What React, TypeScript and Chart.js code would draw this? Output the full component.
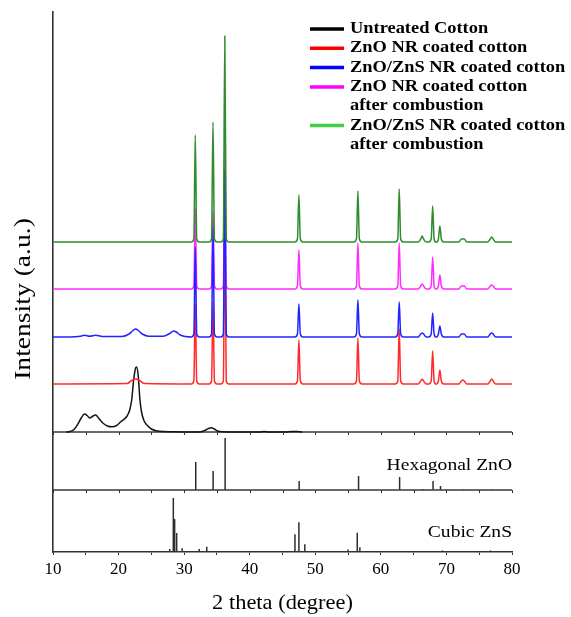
import React, { useEffect, useRef } from 'react';
import { Chart, registerables } from 'chart.js';

Chart.register(...registerables);

// ---------- data ----------
const xTickValues = [10, 20, 30, 40, 50, 60, 70, 80];
const xTickLabels = ['10', '20', '30', '40', '50', '60', '70', '80'];

const traceNames = [
  'Untreated Cotton',
  'ZnO NR coated cotton',
  'ZnO/ZnS NR coated cotton',
  'ZnO NR coated cotton after combustion',
  'ZnO/ZnS NR coated cotton after combustion',
];
const legendLines = [
  ['Untreated Cotton'],
  ['ZnO NR coated cotton'],
  ['ZnO/ZnS NR coated cotton'],
  ['ZnO NR coated cotton', 'after combustion'],
  ['ZnO/ZnS NR coated cotton', 'after combustion'],
];
const traceColors = ['#141414', '#ff2a2a', '#2323ff', '#ff2cff', '#2f8c2f'];
const legendColors = ['#000000', '#ff0000', '#0000ff', '#ff00ff', '#44cc44'];
// vertical offsets (a.u.) of each stacked pattern
const traceOffsets = [120, 168, 215, 263, 310];

// ZnO reflections seen in the coated samples
const znoPeakPositions = [31.7, 34.4, 36.2, 47.5, 56.5, 62.8, 66.3, 67.9, 69.0, 72.5, 76.9];
const redPeakHeights = [80, 82, 160, 44, 46, 55, 5, 33, 14, 4, 5];
const bluePeakHeights = [90, 110, 167, 33, 37, 35, 4, 24, 11, 3, 4];
const magentaPeakHeights = [80, 78, 150, 39, 46, 46, 5, 32, 14, 3, 4];
const greenPeakHeights = [107, 120, 206, 47, 51, 53, 6, 36, 16, 3, 5];

// untreated cotton (cellulose) pattern
const untreatedX = [12.0, 12.6, 13.2, 13.8, 14.3, 14.8, 15.2, 15.6, 16.0, 16.5, 17.0, 17.6, 18.3, 19.0, 19.7, 20.3, 20.8, 21.3, 21.7, 22.0, 22.3, 22.6, 22.75, 23.0, 23.25, 23.5, 23.9, 24.4, 25.0, 25.8, 26.8, 28.0, 30.0, 32.6, 33.3, 33.8, 34.2, 34.6, 35.1, 35.8, 38.0, 41.5, 42.2, 43.0, 45.5, 46.3, 47.2, 48.0];
const untreatedY = [0, 0.5, 2.5, 8, 14, 18, 16.5, 14, 15.5, 17, 13.5, 9, 6, 5.2, 6.5, 10, 12.5, 16, 22, 32, 52, 64, 65, 56, 33, 20, 11, 6.5, 3, 1.2, 0.4, 0.2, 0, 0.3, 2, 3.8, 4.2, 3, 1, 0.2, 0, 0, 0.6, 0, 0, 0.5, 0.5, 0];

// broad cellulose humps still visible in coated samples
const blueBroadX = [12.5, 14.2, 14.8, 15.6, 16.5, 17.5, 20.5, 21.6, 22.2, 22.6, 23.0, 23.6, 24.6, 26.8, 27.8, 28.4, 28.8, 29.4, 30.2];
const blueBroadY = [0, 0.8, 1.8, 0.8, 1.8, 0.6, 0.5, 3, 6.5, 8, 6.5, 3, 0.8, 0.8, 3.5, 6, 5, 2, 0.5];
const redBroadX = [21.3, 22.0, 22.6, 23.2, 24.0];
const redBroadY = [0.4, 3.5, 5, 3.5, 0.4];

// reference patterns
const panelBaselines = [0, 62, 120]; // Cubic ZnS, Hexagonal ZnO, main panel
const hexZnoPositions = [31.77, 34.42, 36.25, 47.54, 56.6, 62.86, 66.38, 67.96, 69.1, 72.56, 76.95];
const hexZnoHeights = [28, 19, 52, 9, 14, 13, 1, 9, 4, 0.6, 0.6];
const cubicZnsPositions = [27.8, 28.35, 28.55, 28.86, 29.7, 32.3, 33.45, 46.9, 47.5, 48.4, 55.0, 56.4, 56.8, 69.4, 76.7];
const cubicZnsHeights = [3, 54, 33, 19, 3.7, 3, 5.3, 17.7, 29.7, 7.7, 2.5, 19.3, 4.7, 1.5, 1.5];

const SERIF = '"Liberation Serif", "Times New Roman", serif';

type Pt = { x: number; y: number | null };

function buildTrace(offset: number, broadX: number[], broadY: number[], heights: number[] | null): Pt[] {
  const pts: Pt[] = [];
  broadX.forEach((x, i) => pts.push({ x, y: offset + broadY[i] }));
  if (heights) {
    znoPeakPositions.forEach((p, i) => {
      pts.push({ x: p - 0.6, y: offset });
      pts.push({ x: p - 0.22, y: offset + 3 });
      pts.push({ x: p, y: offset + heights[i] });
      pts.push({ x: p + 0.22, y: offset + 3 });
      pts.push({ x: p + 0.6, y: offset });
    });
    pts.push({ x: 10, y: offset });
    pts.push({ x: 80, y: offset });
  }
  pts.sort((a, b) => a.x - b.x);
  return pts;
}

function buildSticks(base: number, pos: number[], h: number[]): Pt[] {
  const pts: Pt[] = [];
  pos.forEach((p, i) => {
    pts.push({ x: p, y: base });
    pts.push({ x: p, y: base + h[i] });
    pts.push({ x: p, y: null });
  });
  return pts;
}

function drawText(ctx: CanvasRenderingContext2D, text: string, x: number, y: number, font: string, align: CanvasTextAlign, sx: number, rot = 0) {
  ctx.save();
  ctx.translate(x, y);
  if (rot) ctx.rotate(rot);
  ctx.scale(sx, 1);
  ctx.font = font;
  ctx.fillStyle = '#000';
  ctx.textAlign = align;
  ctx.textBaseline = 'middle';
  ctx.fillText(text, 0, 0);
  ctx.restore();
}

const decorPlugin = {
  id: 'decor',
  afterDatasetsDraw(chart: any) {
    const ctx = chart.ctx as CanvasRenderingContext2D;
    const xs = chart.scales.x;
    const ys = chart.scales.y;
    // little tick marks on the panel separators
    ctx.save();
    ctx.strokeStyle = '#333';
    ctx.lineWidth = 1;
    [panelBaselines[1], panelBaselines[2]].forEach((b) => {
      const py = ys.getPixelForValue(b);
      for (let v = 10; v <= 80; v += 5) {
        const px = Math.round(xs.getPixelForValue(v)) + 0.5;
        ctx.beginPath();
        ctx.moveTo(px, py);
        ctx.lineTo(px, py + 3);
        ctx.stroke();
      }
    });
    ctx.restore();
  },
  afterDraw(chart: any) {
    const ctx = chart.ctx as CanvasRenderingContext2D;
    const xs = chart.scales.x;
    const ys = chart.scales.y;
    const area = chart.chartArea;
    // legend
    let y = 29;
    const lh = 19.3;
    legendLines.forEach((lines, i) => {
      ctx.save();
      ctx.strokeStyle = legendColors[i];
      ctx.lineWidth = 3.5;
      ctx.beginPath();
      ctx.moveTo(310, y);
      ctx.lineTo(344, y);
      ctx.stroke();
      ctx.restore();
      lines.forEach((t, j) => drawText(ctx, t, 350, y + j * lh, `bold 16px ${SERIF}`, 'left', 1.15));
      y += lines.length * lh;
    });
    // panel labels
    drawText(ctx, 'Hexagonal ZnO', xs.getPixelForValue(80), ys.getPixelForValue(panelBaselines[1]) - 24, `17px ${SERIF}`, 'right', 1.15);
    drawText(ctx, 'Cubic ZnS', xs.getPixelForValue(80), ys.getPixelForValue(panelBaselines[0]) - 19, `17px ${SERIF}`, 'right', 1.15);
    // axis titles
    drawText(ctx, 'Intensity (a.u.)', 24, 299, `23px ${SERIF}`, 'center', 1.2, -Math.PI / 2);
    drawText(ctx, '2 theta (degree)', (area.left + area.right) / 2, 603, `22px ${SERIF}`, 'center', 1.02);
  },
};

export default function App() {
  const canvasRef = useRef<HTMLCanvasElement | null>(null);

  useEffect(() => {
    const canvas = canvasRef.current;
    if (!canvas) return;

    const traces = [
      buildTrace(traceOffsets[0], untreatedX, untreatedY, null),
      buildTrace(traceOffsets[1], redBroadX, redBroadY, redPeakHeights),
      buildTrace(traceOffsets[2], blueBroadX, blueBroadY, bluePeakHeights),
      buildTrace(traceOffsets[3], [], [], magentaPeakHeights),
      buildTrace(traceOffsets[4], [], [], greenPeakHeights),
    ];
    // drawing order: lower "order" is drawn on top
    const drawOrder = [5, 3, 1, 2, 0];

    const datasets: any[] = traces.map((d, i) => ({
      label: traceNames[i],
      data: d,
      borderColor: traceColors[i],
      borderWidth: 1.5,
      pointRadius: 0,
      fill: false,
      cubicInterpolationMode: 'monotone',
      order: drawOrder[i],
    }));

    datasets.push({
      label: 'separators',
      data: [panelBaselines[1], panelBaselines[2]].flatMap((b) => [
        { x: 10, y: b },
        { x: 80, y: b },
        { x: 80, y: null },
      ]),
      borderColor: '#3a3a3a',
      borderWidth: 1.6,
      pointRadius: 0,
      spanGaps: false,
      order: 6,
    });
    datasets.push({
      label: 'Hexagonal ZnO',
      data: buildSticks(panelBaselines[1], hexZnoPositions, hexZnoHeights),
      borderColor: '#2e2e2e',
      borderWidth: 1.5,
      pointRadius: 0,
      spanGaps: false,
      order: 7,
    });
    datasets.push({
      label: 'Cubic ZnS',
      data: buildSticks(panelBaselines[0], cubicZnsPositions, cubicZnsHeights),
      borderColor: '#2e2e2e',
      borderWidth: 1.5,
      pointRadius: 0,
      spanGaps: false,
      order: 8,
    });

    const chart = new Chart(canvas, {
      type: 'line',
      data: { datasets },
      plugins: [decorPlugin],
      options: {
        animation: false,
        responsive: false,
        maintainAspectRatio: false,
        devicePixelRatio: 1,
        layout: { padding: { top: 12, right: 59, left: 0, bottom: 0 } },
        plugins: { legend: { display: false }, tooltip: { enabled: false } },
        scales: {
          x: {
            type: 'linear',
            min: 10,
            max: 80,
            ticks: {
              stepSize: 5,
              autoSkip: false,
              maxRotation: 0,
              padding: 4,
              color: '#000',
              font: { family: SERIF, size: 17 },
              callback: (v: any) => {
                const idx = xTickValues.indexOf(Number(v));
                return idx >= 0 ? xTickLabels[idx] : '';
              },
            },
            grid: { display: true, drawOnChartArea: false, drawTicks: true, tickLength: 3, color: '#333', lineWidth: 1 },
            border: { display: true, color: '#333', width: 1.6 },
            afterFit: (s: any) => {
              s.height = 65;
            },
          },
          y: {
            type: 'linear',
            min: 0,
            max: 540,
            ticks: { display: false },
            grid: { display: false },
            border: { display: true, color: '#333', width: 1.6 },
            afterFit: (s: any) => {
              s.width = 53;
            },
          },
        },
      } as any,
    });
    return () => chart.destroy();
  }, []);

  return (
    <div style={{ position: 'absolute', left: 0, top: 0, width: 571, height: 617, background: '#fff' }}>
      <canvas ref={canvasRef} width={571} height={617} style={{ display: 'block', width: 571, height: 617 }} />
    </div>
  );
}
